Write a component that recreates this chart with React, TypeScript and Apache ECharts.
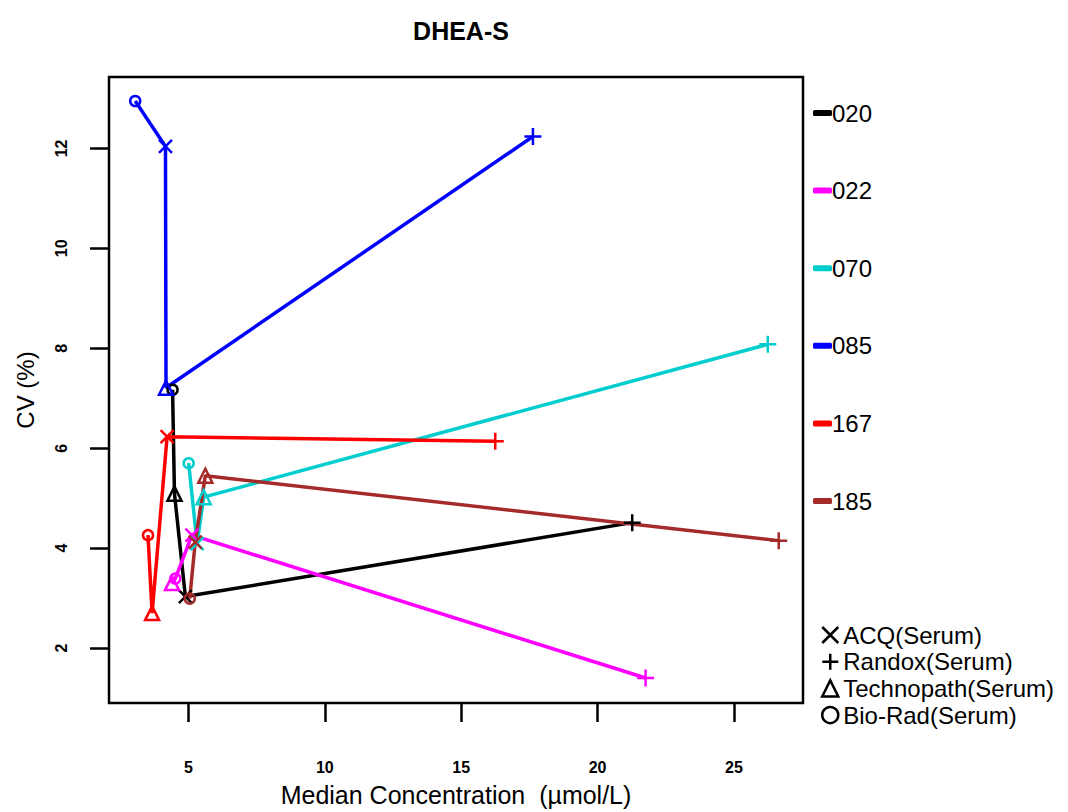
import React, { useEffect, useRef } from "react";
import * as echarts from "echarts";

// Lab codes and colours
const labs = ["020", "022", "070", "085", "167", "185"];
const labColors = ["#000000", "#FF00FF", "#00CDCD", "#0000FF", "#FF0000", "#A52A2A"];

// Kit (material) order for the value arrays below
const kits = ["ACQ(Serum)", "Randox(Serum)", "Technopath(Serum)", "Bio-Rad(Serum)"];

// Median concentration (µmol/L) per lab, in kit order
const x020 = [4.89, 21.27, 4.49, 4.42];
const x022 = [5.13, 21.76, 4.40, 4.52];
const x070 = [5.32, 26.24, 5.56, 5.01];
const x085 = [4.16, 17.63, 4.18, 3.05];
const x167 = [4.22, 16.25, 3.67, 3.52];
const x185 = [5.25, 26.64, 5.62, 5.05];

// CV (%) per lab, in kit order
const y020 = [3.03, 4.51, 5.09, 7.17];
const y022 = [4.26, 1.40, 3.30, 3.39];
const y070 = [4.09, 8.08, 5.02, 5.70];
const y085 = [12.04, 12.24, 7.21, 12.95];
const y167 = [6.23, 6.14, 2.70, 4.26];
const y185 = [4.12, 4.15, 5.45, 2.99];

const xValues = [x020, x022, x070, x085, x167, x185];
const yValues = [y020, y022, y070, y085, y167, y185];

// Axis ticks
const xTicks = [5, 10, 15, 20, 25];
const yTicks = [2, 4, 6, 8, 10, 12];

const crossPath = "path://M0,0L10,10M0,10L10,0";
const plusPath = "path://M5,0L5,10M0,5L10,5";
const kitSymbols = [crossPath, plusPath, "triangle", "circle"];
const kitSizes = [13, 17, 14, 10];

const FONT = "'Liberation Sans', Arial, sans-serif";

export default function App() {
  const ref = useRef<HTMLDivElement>(null);

  useEffect(() => {
    if (!ref.current) return;
    const chart = echarts.init(ref.current, undefined, { renderer: "svg" });

    const labSeries = labs.map((lab, li) => {
      const pts = kits.map((_, ki) => ({
        value: [xValues[li][ki], yValues[li][ki]],
        symbol: kitSymbols[ki],
        symbolSize: kitSizes[ki],
      }));
      pts.sort((a, b) => a.value[0] - b.value[0]);
      return {
        name: lab,
        type: "line",
        data: pts,
        showAllSymbol: true,
        symbolKeepAspect: true,
        lineStyle: { color: labColors[li], width: 3.5 },
        itemStyle: { color: "transparent", borderColor: labColors[li], borderWidth: 2.5 },
        emphasis: { disabled: true },
        z: 3,
      };
    });

    const kitSeries = kits.map((k) => ({
      name: k,
      type: "line",
      data: [],
    }));

    chart.setOption({
      animation: false,
      backgroundColor: "#ffffff",
      title: {
        text: "DHEA-S",
        left: 456,
        top: 13,
        textAlign: "center",
        textStyle: { fontFamily: FONT, fontWeight: "bold", fontSize: 25, color: "#000" },
      },
      grid: {
        left: 109,
        top: 77,
        right: 1068 - 803,
        bottom: 812 - 706,
        show: true,
        borderColor: "#000",
        borderWidth: 2.5,
        backgroundColor: "#fff",
      },
      legend: [
        {
          orient: "vertical",
          left: 808,
          top: 96,
          itemGap: 53.6,
          itemWidth: 19,
          itemHeight: 6,
          selectedMode: false,
          textStyle: { fontFamily: FONT, fontSize: 24, color: "#000", lineHeight: 24, padding: [0, 0, 0, -5] },
          data: labs.map((lab, i) => ({
            name: lab,
            icon: "roundRect",
            itemStyle: { color: labColors[i], borderWidth: 0 },
          })),
        },
        {
          orient: "vertical",
          left: 816,
          top: 618,
          itemGap: 2.7,
          itemWidth: 16,
          itemHeight: 16,
          selectedMode: false,
          textStyle: { fontFamily: FONT, fontSize: 24, color: "#000", lineHeight: 24, padding: [0, 0, 0, 0] },
          data: kits.map((k, i) => ({
            name: k,
            icon: kitSymbols[i],
            itemStyle: { color: "transparent", borderColor: "#000", borderWidth: 2.5 },
          })),
        },
      ],
      xAxis: {
        type: "value",
        min: 2.09,
        max: 27.53,
        name: "Median Concentration  (µmol/L)",
        nameLocation: "middle",
        nameGap: 79,
        nameTextStyle: { fontFamily: FONT, fontSize: 25, color: "#000" },
        axisLine: { show: false },
        axisTick: {
          show: true,
          customValues: xTicks,
          length: 19,
          lineStyle: { color: "#000", width: 2.5 },
        },
        axisLabel: {
          customValues: xTicks,
          margin: 56,
          fontFamily: FONT,
          fontSize: 16,
          fontWeight: "bold",
          color: "#000",
        },
        splitLine: { show: false },
      },
      yAxis: {
        type: "value",
        min: 0.9,
        max: 13.43,
        name: "CV (%)",
        nameLocation: "middle",
        nameGap: 72,
        nameTextStyle: { fontFamily: FONT, fontSize: 24, color: "#000" },
        axisLine: { show: false },
        axisTick: {
          show: true,
          customValues: yTicks,
          length: 19,
          lineStyle: { color: "#000", width: 2.5 },
        },
        axisLabel: {
          customValues: yTicks,
          rotate: 90,
          margin: 40,
          fontFamily: FONT,
          fontSize: 16,
          fontWeight: "bold",
          color: "#000",
        },
        splitLine: { show: false },
      },
      series: [...labSeries, ...kitSeries],
    });

    return () => chart.dispose();
  }, []);

  return (
    <div
      ref={ref}
      style={{ position: "absolute", left: 0, top: 0, width: 1068, height: 812 }}
    />
  );
}
